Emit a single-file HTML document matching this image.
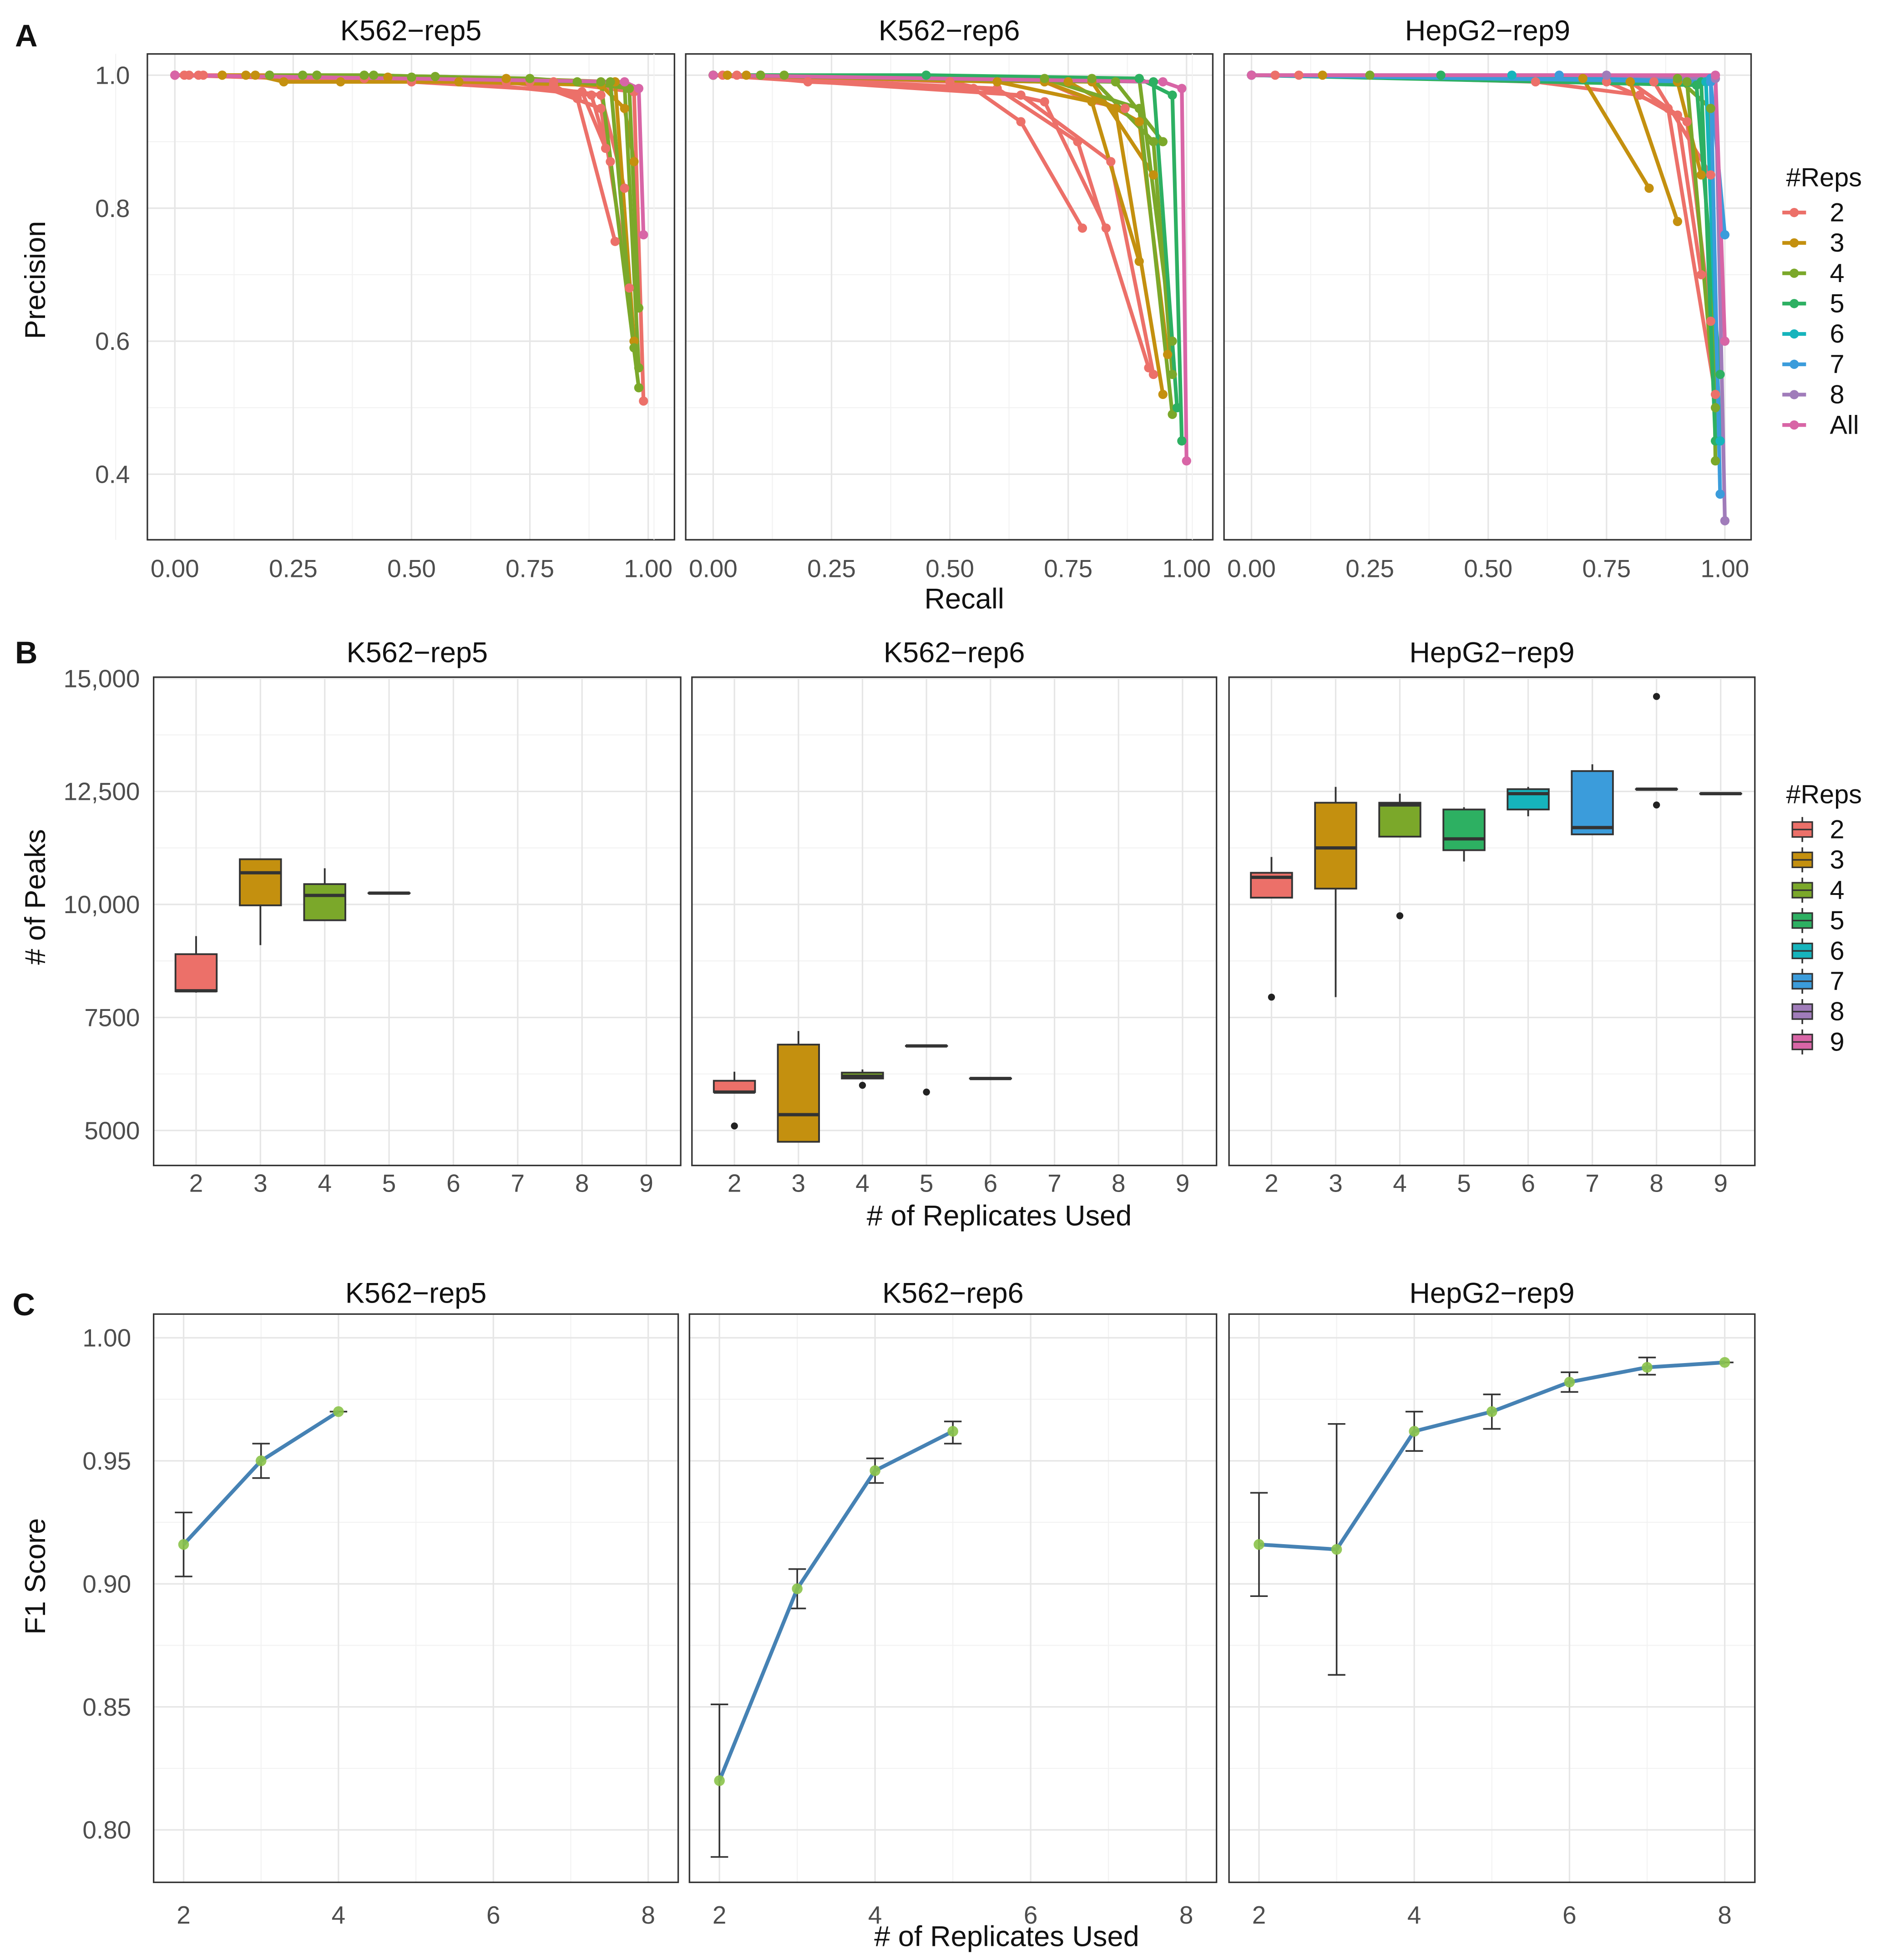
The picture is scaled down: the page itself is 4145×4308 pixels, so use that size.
<!DOCTYPE html>
<html><head><meta charset="utf-8"><style>
html,body{margin:0;padding:0;background:#fff;}
svg{display:block;font-family:"Liberation Sans",Arial,sans-serif;}
</style></head><body>
<svg id="fig" xmlns="http://www.w3.org/2000/svg" width="4145" height="4308" viewBox="0 0 1510 1569"></svg>
<script>
// ---------- DATA ----------
const prTitles = ["K562\u2212rep5","K562\u2212rep6","HepG2\u2212rep9"];
const prGroups = ["2","3","4","5","6","7","8","All"];
const prXTicks = [0,0.25,0.5,0.75,1];
const prXTickLabels = ["0.00","0.25","0.50","0.75","1.00"];
const prYTicks = [0.4,0.6,0.8,1.0];
const prYTickLabels = ["0.4","0.6","0.8","1.0"];
// each line: [group index, [[recall, precision], ...]]
const prLinesP1 = [
 [0,[[0,1],[0.03,1],[0.06,1],[0.1,1],[0.2,1],[0.5,0.995],[0.8,0.985],[0.85,0.965],[0.93,0.75]]],
 [0,[[0,1],[0.02,1],[0.05,1],[0.4,0.995],[0.75,0.99],[0.9,0.95],[0.96,0.68]]],
 [0,[[0,1],[0.6,0.99],[0.88,0.97],[0.92,0.87]]],
 [0,[[0,1],[0.5,0.99],[0.86,0.975],[0.91,0.89]]],
 [0,[[0,1],[0.7,0.99],[0.9,0.97],[0.95,0.83]]],
 [0,[[0,1],[0.8,0.99],[0.97,0.975],[0.99,0.51]]],
 [1,[[0.1,1],[0.17,1],[0.23,0.99],[0.35,0.99],[0.6,0.99],[0.9,0.985],[0.95,0.95],[0.97,0.87]]],
 [1,[[0.15,1],[0.45,0.997],[0.7,0.995],[0.93,0.99],[0.97,0.6]]],
 [2,[[0.2,1],[0.27,1],[0.5,0.997],[0.85,0.99],[0.96,0.98],[0.98,0.65]]],
 [2,[[0.3,1],[0.42,1],[0.9,0.99],[0.98,0.53]]],
 [2,[[0.3,1],[0.55,0.998],[0.92,0.99],[0.97,0.59]]],
 [2,[[0.4,1],[0.75,0.995],[0.95,0.985],[0.98,0.56]]],
 [7,[[0,1],[0.95,0.99],[0.98,0.98],[0.99,0.76]]]
];
const prLinesP2 = [
 [0,[[0,1],[0.02,1],[0.05,1],[0.2,0.99],[0.55,0.98],[0.65,0.93],[0.78,0.77]]],
 [0,[[0,1],[0.1,1],[0.5,0.99],[0.7,0.96],[0.83,0.77]]],
 [0,[[0,1],[0.6,0.98],[0.77,0.9],[0.92,0.56]]],
 [0,[[0,1],[0.65,0.97],[0.84,0.87],[0.93,0.55]]],
 [0,[[0,1],[0.7,0.99],[0.8,0.96],[0.87,0.95]]],
 [1,[[0,1],[0.03,1],[0.07,1],[0.6,0.99],[0.8,0.96],[0.9,0.72]]],
 [1,[[0,1],[0.7,0.99],[0.85,0.95],[0.95,0.52]]],
 [1,[[0,1],[0.75,0.99],[0.9,0.93],[0.96,0.58]]],
 [1,[[0,1],[0.8,0.99],[0.93,0.85]]],
 [2,[[0,1],[0.1,1],[0.15,1],[0.7,0.995],[0.9,0.95],[0.97,0.49]]],
 [2,[[0,1],[0.8,0.995],[0.93,0.9],[0.97,0.55]]],
 [2,[[0,1],[0.85,0.99],[0.95,0.9]]],
 [2,[[0,1],[0.9,0.995],[0.97,0.6]]],
 [3,[[0,1],[0.45,1],[0.9,0.995],[0.97,0.97],[0.99,0.45]]],
 [3,[[0,1],[0.93,0.99],[0.98,0.5]]],
 [7,[[0,1],[0.95,0.99],[0.99,0.98],[1.0,0.42]]]
];
const prLinesP3 = [
 [0,[[0,1],[0.05,1],[0.1,1],[0.6,0.99],[0.82,0.97],[0.92,0.93],[0.97,0.63]]],
 [0,[[0,1],[0.75,0.99],[0.88,0.95],[0.98,0.52]]],
 [0,[[0,1],[0.8,0.99],[0.9,0.94],[0.95,0.7]]],
 [0,[[0,1],[0.85,0.99],[0.97,0.85]]],
 [1,[[0,1],[0.15,1],[0.7,0.995],[0.84,0.83]]],
 [1,[[0,1],[0.8,0.99],[0.9,0.78]]],
 [1,[[0,1],[0.9,0.99],[0.95,0.85]]],
 [2,[[0,1],[0.25,1],[0.9,0.995],[0.97,0.95],[0.98,0.42]]],
 [2,[[0,1],[0.92,0.99],[0.98,0.5]]],
 [3,[[0,1],[0.4,1],[0.95,0.99],[0.98,0.45]]],
 [3,[[0,1],[0.94,0.985],[0.99,0.55]]],
 [4,[[0,1],[0.55,1],[0.96,0.99],[0.99,0.45]]],
 [5,[[0,1],[0.65,1],[0.97,0.995],[0.99,0.37]]],
 [5,[[0,1],[0.97,0.99],[1.0,0.76]]],
 [6,[[0,1],[0.75,1],[0.98,0.995],[1.0,0.33]]],
 [7,[[0,1],[0.98,1.0],[1.0,0.6]]]
];
const boxCats = [2,3,4,5,6,7,8,9];
const boxYTicks = [5000,7500,10000,12500,15000];
const boxYTickLabels = ["5000","7500","10,000","12,500","15,000"];
// [cat, lo, q1, med, q3, hi]
const boxP1 = [[2,8050,8080,8090,8900,9300],[3,9100,9980,10700,11000,11000],[4,9650,9650,10200,10450,10800],[5,10250,10250,10250,10250,10250]];
const boxP2 = [[2,5850,5850,5850,6100,6300],[3,4750,4750,5350,6900,7200],[4,6150,6150,6200,6280,6350],[5,6870,6870,6870,6870,6870],[6,6150,6150,6150,6150,6150]];
const boxP3 = [[2,10150,10150,10600,10700,11050],[3,7950,10350,11250,12250,12600],[4,11500,11500,12200,12250,12450],[5,10950,11200,11450,12100,12150],[6,11950,12100,12450,12550,12600],[7,11550,11550,11700,12950,13100],[8,12550,12550,12550,12550,12550],[9,12450,12450,12450,12450,12450]];
const outP1 = [];
const outP2 = [[2,5100],[4,6000],[5,5850]];
const outP3 = [[2,7950],[4,9750],[8,14600],[8,12200]];
const f1XTicks = [2,4,6,8];
const f1YTicks = [0.80,0.85,0.90,0.95,1.00];
const f1YTickLabels = ["0.80","0.85","0.90","0.95","1.00"];
const f1XP1 = [2,3,4], f1YP1 = [0.916,0.950,0.970], f1LoP1 = [0.903,0.943,0.970], f1HiP1 = [0.929,0.957,0.970];
const f1XP2 = [2,3,4,5], f1YP2 = [0.820,0.898,0.946,0.962], f1LoP2 = [0.789,0.890,0.941,0.957], f1HiP2 = [0.851,0.906,0.951,0.966];
const f1XP3 = [2,3,4,5,6,7,8], f1YP3 = [0.916,0.914,0.962,0.970,0.982,0.988,0.990], f1LoP3 = [0.895,0.863,0.954,0.963,0.978,0.985,0.990], f1HiP3 = [0.937,0.965,0.970,0.977,0.986,0.992,0.990];

// ---------- DRAWING ----------
const NS="http://www.w3.org/2000/svg";
const svg=document.getElementById('fig');
function mk(tag,attrs,parent,text){const e=document.createElementNS(NS,tag);for(const k in attrs)e.setAttribute(k,attrs[k]);if(text!==undefined)e.textContent=text;(parent||svg).appendChild(e);return e;}
function txt(x,y,s,size,anchor,fill,name,extra){const t=mk('text',Object.assign({x:x,y:y,'font-size':size,'text-anchor':anchor||'middle',fill:fill||'#000'},extra||{}),svg,s);


return t;}
const lineCols=["#EC7069","#C4900F","#7BA82A","#2DB062","#16B4BC","#3B9CDB","#A07CBA","#D865A6"];
const boxCols=["#EC7069","#C4900F","#7BA82A","#2DB062","#16B4BC","#3B9CDB","#A07CBA","#D865A6"];
const TICK=20, TITLE=23;

function panelFrame(x0,y0,x1,y1,name){
  const r=mk('rect',{x:x0,y:y0,width:x1-x0,height:y1-y0,fill:'#fff',stroke:'none'});
  
  
  return r;
}
function border(x0,y0,x1,y1){const r=mk('rect',{x:x0,y:y0,width:x1-x0,height:y1-y0,fill:'none',stroke:'#333',"stroke-width":1.2});

}
function gl(x1,y1,x2,y2,minor){const l=mk('line',{x1:x1,y1:y1,x2:x2,y2:y2,stroke:minor?'#f2f2f2':'#e6e6e6','stroke-width':minor?0.8:1.2});

}

txt(12,37,"A",25,'start','#111','panel-letter-a',{'font-weight':'bold'});
txt(12,531,"B",25,'start','#111','panel-letter-b',{'font-weight':'bold'});
txt(10,1053,"C",25,'start','#111','panel-letter-c',{'font-weight':'bold'});

// ===== A =====
const aPanels=[[118,540],[549,971],[980,1402]];
const aY0=43,aY1=432;
const aLines=[prLinesP1,prLinesP2,prLinesP3];
function ay(v){return 60+(1.0-v)*532.5;}
aPanels.forEach((p,i)=>{
  const ax=v=>p[0]+22+v*379*(p[1]-p[0])/422;
  panelFrame(p[0],aY0,p[1],aY1,'pr-panel-'+(i+1));
  for(let v=-0.125;v<=1.1;v+=0.25){gl(ax(v),aY0,ax(v),aY1,true);}
  [0.3,0.5,0.7,0.9].forEach(v=>gl(p[0],ay(v),p[1],ay(v),true));
  prXTicks.forEach(v=>gl(ax(v),aY0,ax(v),aY1,false));
  prYTicks.forEach(v=>gl(p[0],ay(v),p[1],ay(v),false));
  aLines[i].forEach(([g,pts])=>{
    const pl=mk('polyline',{points:pts.map(q=>ax(q[0])+','+ay(q[1])).join(' '),fill:'none',stroke:lineCols[g],'stroke-width':3,'stroke-linejoin':'round'});
    
    
  });
  aLines[i].forEach(([g,pts])=>{
    pts.forEach(q=>{const c=mk('circle',{cx:ax(q[0]),cy:ay(q[1]),r:3.7,fill:lineCols[g]});
    
    });
  });
  border(p[0],aY0,p[1],aY1);
  txt((p[0]+p[1])/2,32,prTitles[i],TITLE,'middle','#111','pr-panel-title');
  prXTicks.forEach((v,k)=>txt(ax(v),462,prXTickLabels[k],TICK,'middle','#4d4d4d','x-tick-label'));
});
prYTicks.forEach((v,k)=>txt(104,ay(v)+7,prYTickLabels[k],TICK,'end','#4d4d4d','y-tick-label'));
txt(772,487,"Recall",TITLE,'middle','#111','x-axis-title-recall');
txt(36,224,"Precision",TITLE,'middle','#111','y-axis-title-precision',{transform:'rotate(-90 36 224)'});
txt(1430,149,"#Reps",21,'start','#111','legend-title-a');
prGroups.forEach((g,k)=>{
  const y=170+k*24.3;
  const l=mk('line',{x1:1427,y1:y,x2:1446,y2:y,stroke:lineCols[k],'stroke-width':3});
  
  
  const c=mk('circle',{cx:1436.5,cy:y,r:3.7,fill:lineCols[k]});
  
  
  txt(1465,y+7,g,21,'start','#111','legend-entry-'+g);
});

// ===== B =====
const bPanels=[[123,545],[554,974],[984,1405]];
const bY0=542,bY1=933;
function by(v){return 905-(v-5000)*0.0362;}
const bBoxes=[boxP1,boxP2,boxP3], bOut=[outP1,outP2,outP3];
bPanels.forEach((p,i)=>{
  const bx=c=>p[0]+34+(c-2)*51.5*(p[1]-p[0])/422;
  const bw=33;
  panelFrame(p[0],bY0,p[1],bY1,'box-panel-'+(i+1));
  [6250,8750,11250,13750].forEach(v=>gl(p[0],by(v),p[1],by(v),true));
  boxYTicks.forEach(v=>gl(p[0],by(v),p[1],by(v),false));
  boxCats.forEach(c=>gl(bx(c),bY0,bx(c),bY1,false));
  bBoxes[i].forEach(b=>{
    const [c,lo,q1,md,q3,hi]=b, x=bx(c), col=boxCols[c-2];
    const w1=mk('line',{x1:x,y1:by(hi),x2:x,y2:by(q3),stroke:'#333','stroke-width':1.4});
    
    
    const w2=mk('line',{x1:x,y1:by(q1),x2:x,y2:by(lo),stroke:'#333','stroke-width':1.4});
    
    
    const r=mk('rect',{x:x-bw/2,y:by(q3),width:bw,height:Math.max(0.01,by(q1)-by(q3)),fill:col,stroke:'#333','stroke-width':1.4});
    
    
    const m=mk('line',{x1:x-bw/2,y1:by(md),x2:x+bw/2,y2:by(md),stroke:'#333','stroke-width':2.6});
    
    
  });
  bOut[i].forEach(o=>{const c=mk('circle',{cx:bx(o[0]),cy:by(o[1]),r:2.8,fill:'#222'});
  
  });
  border(p[0],bY0,p[1],bY1);
  txt((p[0]+p[1])/2,530,prTitles[i],TITLE,'middle','#111','box-panel-title');
  boxCats.forEach(c=>txt(bx(c),954,String(c),TICK,'middle','#4d4d4d','x-tick-label'));
});
boxYTickLabels.forEach((s,k)=>txt(112,by(boxYTicks[k])+7,s,TICK,'end','#4d4d4d','y-tick-label'));
txt(800,981,"# of Replicates Used",TITLE,'middle','#111','x-axis-title-replicates-b');
txt(36,718,"# of Peaks",TITLE,'middle','#111','y-axis-title-peaks',{transform:'rotate(-90 36 718)'});
txt(1430,643,"#Reps",21,'start','#111','legend-title-b');
boxCats.forEach((c,k)=>{
  const y=664+k*24.3;
  const l=mk('line',{x1:1443,y1:y-10,x2:1443,y2:y+10,stroke:'#333','stroke-width':1.3});
  
  
  const r=mk('rect',{x:1435,y:y-6,width:16,height:12,fill:boxCols[k],stroke:'#333','stroke-width':1.2});
  
  
  const m=mk('line',{x1:1435,y1:y,x2:1451,y2:y,stroke:'#333','stroke-width':1.2});
  
  
  txt(1465,y+7,String(c),21,'start','#111','legend-entry-'+c);
});

// ===== C =====
const cPanels=[[123,543],[552,974],[984,1405]];
const cY0=1052,cY1=1507;
function cy(v){return 1071+(1.0-v)*1970;}
const cX=[f1XP1,f1XP2,f1XP3],cYv=[f1YP1,f1YP2,f1YP3],cLo=[f1LoP1,f1LoP2,f1LoP3],cHi=[f1HiP1,f1HiP2,f1HiP3];
cPanels.forEach((p,i)=>{
  const cx=v=>p[0]+24+(v-2)*62*(p[1]-p[0])/420;
  panelFrame(p[0],cY0,p[1],cY1,'f1-panel-'+(i+1));
  [3,5,7].forEach(v=>gl(cx(v),cY0,cx(v),cY1,true));
  [0.825,0.875,0.925,0.975].forEach(v=>gl(p[0],cy(v),p[1],cy(v),true));
  f1XTicks.forEach(v=>gl(cx(v),cY0,cx(v),cY1,false));
  f1YTicks.forEach(v=>gl(p[0],cy(v),p[1],cy(v),false));
  cX[i].forEach((x,k)=>{
    const X=cx(x);
    const e=mk('path',{d:`M${X-7},${cy(cHi[i][k])}H${X+7}M${X},${cy(cHi[i][k])}V${cy(cLo[i][k])}M${X-7},${cy(cLo[i][k])}H${X+7}`,stroke:'#333','stroke-width':1.3,fill:'none'});
    
    
  });
  const pl=mk('polyline',{points:cX[i].map((x,k)=>cx(x)+','+cy(cYv[i][k])).join(' '),fill:'none',stroke:'#4682B4','stroke-width':3,'stroke-linejoin':'round'});
  
  
  cX[i].forEach((x,k)=>{const c=mk('circle',{cx:cx(x),cy:cy(cYv[i][k]),r:4.3,fill:'#8BC34A','fill-opacity':0.9});
  
  });
  border(p[0],cY0,p[1],cY1);
  txt((p[0]+p[1])/2,1043,prTitles[i],TITLE,'middle','#111','f1-panel-title');
  f1XTicks.forEach(v=>txt(cx(v),1540,String(v),TICK,'middle','#4d4d4d','x-tick-label'));
});
f1YTicks.forEach((v,k)=>txt(105,cy(v)+7,f1YTickLabels[k],TICK,'end','#4d4d4d','y-tick-label'));
txt(806,1558,"# of Replicates Used",TITLE,'middle','#111','x-axis-title-replicates-c');
txt(36,1262,"F1 Score",TITLE,'middle','#111','y-axis-title-f1',{transform:'rotate(-90 36 1262)'});
</script>
</body></html>
